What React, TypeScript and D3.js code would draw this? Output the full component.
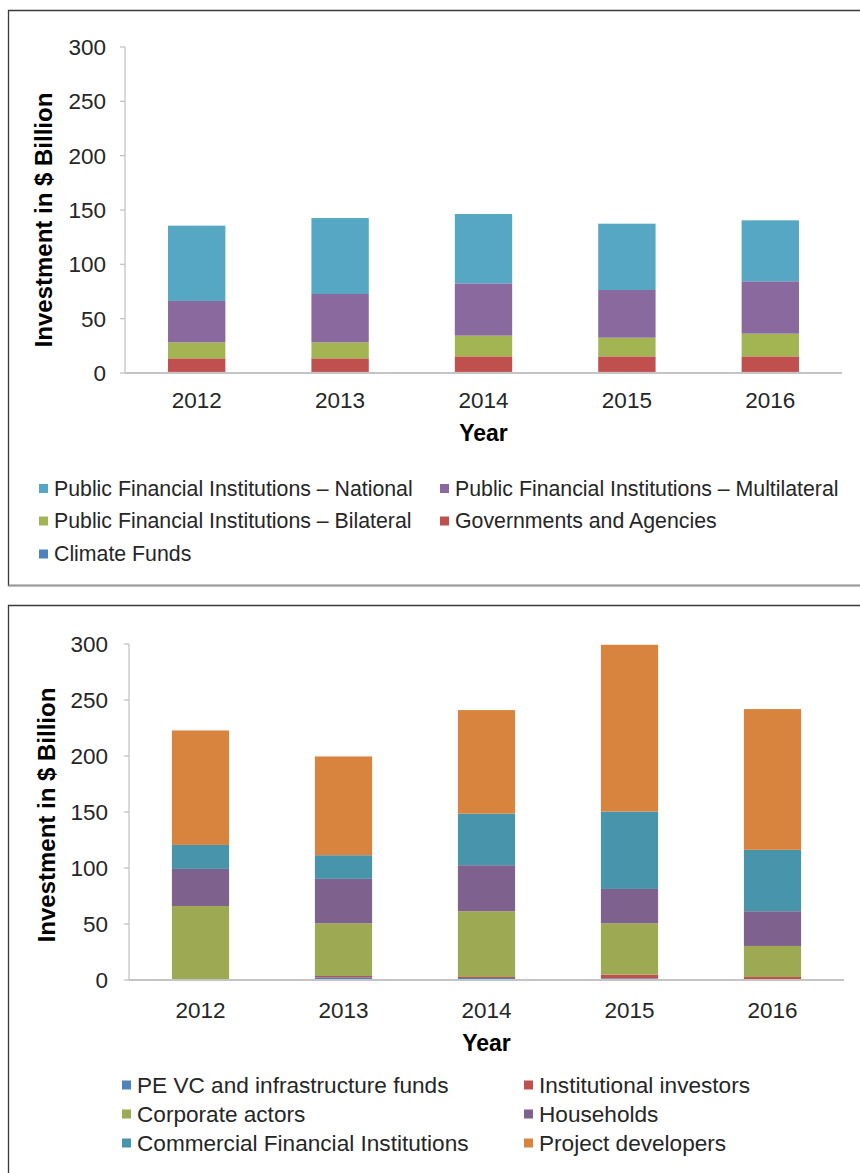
import React from "react";
import * as d3 from "d3";

const years = ["2012", "2013", "2014", "2015", "2016"];
const yTicks = [0, 50, 100, 150, 200, 250, 300];

// Top chart (public finance), bottom to top stacking order
const topNames = [
  "Climate Funds",
  "Governments and Agencies",
  "Public Financial Institutions – Bilateral",
  "Public Financial Institutions – Multilateral",
  "Public Financial Institutions – National",
];
const climateFunds = [1, 1, 1, 1, 1];
const governments = [12.5, 12.5, 14.3, 14.3, 14.3];
const pfiBilateral = [14.7, 14.7, 19.1, 17.2, 20.9];
const pfiMultilateral = [38.1, 44.5, 48.1, 43.9, 48.2];
const pfiNational = [69.3, 69.9, 63.8, 61.0, 56.1];
const topColors = ["#4f81bd", "#c0504d", "#a3b552", "#8a699e", "#55a7c3"];
// legend order (row-major, two columns)
const topLegendOrder = [4, 3, 2, 1, 0];

// Bottom chart (private finance)
const bottomNames = [
  "PE VC and infrastructure funds",
  "Institutional investors",
  "Corporate actors",
  "Households",
  "Commercial Financial Institutions",
  "Project developers",
];
const peVc = [0, 2.4, 1.8, 1.5, 0.3];
const institutional = [0, 1.2, 0.9, 3.3, 2.4];
const corporate = [66.1, 47.0, 58.7, 45.8, 27.7];
const households = [33.1, 39.7, 41.1, 30.7, 31.0];
const commercialFI = [21.4, 21.1, 46.1, 69.1, 54.8];
const projectDevelopers = [102.2, 88.2, 92.4, 148.9, 125.7];
const bottomColors = ["#4f81bd", "#c0504d", "#9ea954", "#7e618c", "#4794ab", "#d9843e"];
const bottomLegendOrder = [0, 1, 2, 3, 4, 5];

const FONT = "'Liberation Sans', Arial, Helvetica, sans-serif";

type Layout = {
  axisX: number;
  rightX: number;
  y0: number;
  y300: number;
  tickLabelX: number;
  yearBaseline: number;
  titleBaseline: number;
  yTitleX: number;
  yTitleY: number;
  legendRows: number[];
  legendCols: number[];
  legendFont: number;
  square: number;
};

function StackedChart({
  seriesValues,
  names,
  colors,
  legendOrder,
  L,
}: {
  seriesValues: number[][];
  names: string[];
  colors: string[];
  legendOrder: number[];
  L: Layout;
}) {
  const x = d3
    .scaleBand<string>()
    .domain(years)
    .range([L.axisX, L.rightX])
    .paddingInner(0.6)
    .paddingOuter(0.3);
  const y = d3.scaleLinear().domain([0, 300]).range([L.y0, L.y300]);
  const keys = names.map((_, i) => "s" + i);
  const rows = years.map((yr, j) => {
    const r: any = { year: yr };
    keys.forEach((k, i) => (r[k] = seriesValues[i][j]));
    return r;
  });
  const stacked = d3.stack<any>().keys(keys)(rows);

  return (
    <g>
      {stacked.map((layer, i) => (
        <g key={i} fill={colors[i]}>
          {layer.map((d, j) => {
            const h = y(d[0]) - y(d[1]);
            if (h <= 0) return null;
            return (
              <rect
                key={j}
                x={x(years[j])}
                y={y(d[1])}
                width={x.bandwidth()}
                height={h}
              />
            );
          })}
        </g>
      ))}
      {/* y axis */}
      <line x1={L.axisX} x2={L.axisX} y1={L.y300} y2={L.y0} stroke="#bfbfbf" strokeWidth={1.2} />
      {yTicks.map((t) => (
        <g key={t}>
          <line x1={L.axisX - 5} x2={L.axisX} y1={y(t)} y2={y(t)} stroke="#bfbfbf" strokeWidth={1.2} />
          <text
            x={L.tickLabelX}
            y={y(t)}
            dy="0.35em"
            textAnchor="end"
            fontSize={22.5}
            fill="#262626"
            fontFamily={FONT}
          >
            {t}
          </text>
        </g>
      ))}
      {/* x axis baseline */}
      <line x1={L.axisX} x2={L.rightX} y1={L.y0} y2={L.y0} stroke="#c4c4c4" strokeWidth={2} />
      {years.map((yr) => (
        <text
          key={yr}
          x={(x(yr) as number) + x.bandwidth() / 2}
          y={L.yearBaseline}
          textAnchor="middle"
          fontSize={22.5}
          fill="#262626"
          fontFamily={FONT}
        >
          {yr}
        </text>
      ))}
      <text
        x={(L.axisX + L.rightX) / 2}
        y={L.titleBaseline}
        textAnchor="middle"
        fontSize={23}
        fontWeight="bold"
        fill="#000"
        fontFamily={FONT}
      >
        Year
      </text>
      <text
        transform={`translate(${L.yTitleX},${L.yTitleY}) rotate(-90)`}
        textAnchor="middle"
        fontSize={24}
        fontWeight="bold"
        fill="#000"
        fontFamily={FONT}
      >
        Investment in $ Billion
      </text>
      {/* legend */}
      {legendOrder.map((si, k) => {
        const row = Math.floor(k / 2);
        const col = k % 2;
        const cx = L.legendCols[col];
        const cy = L.legendRows[row];
        return (
          <g key={si}>
            <rect
              x={cx}
              y={cy - L.square / 2}
              width={L.square}
              height={L.square}
              fill={colors[si]}
            />
            <text
              x={cx + L.square + 6}
              y={cy}
              dy="0.35em"
              fontSize={L.legendFont}
              fill="#262626"
              fontFamily={FONT}
            >
              {names[si]}
            </text>
          </g>
        );
      })}
    </g>
  );
}

const topLayout: Layout = {
  axisX: 125,
  rightX: 842,
  y0: 373,
  y300: 47,
  tickLabelX: 106,
  yearBaseline: 408,
  titleBaseline: 441,
  yTitleX: 52,
  yTitleY: 220,
  legendRows: [488.5, 521, 554],
  legendCols: [39, 440],
  legendFont: 21.3,
  square: 9,
};

const bottomLayout: Layout = {
  axisX: 129,
  rightX: 844,
  y0: 980,
  y300: 644,
  tickLabelX: 108,
  yearBaseline: 1018,
  titleBaseline: 1051,
  yTitleX: 55,
  yTitleY: 815,
  legendRows: [1085, 1114, 1143],
  legendCols: [122, 524],
  legendFont: 22.6,
  square: 9,
};

export default function App() {
  return (
    <svg
      width={860}
      height={1173}
      style={{ position: "absolute", left: 0, top: 0, background: "#fff" }}
    >
      <rect x={0} y={0} width={860} height={1173} fill="#fff" />
      {/* frames */}
      <path d="M870,10.5 H8.5 V585.5 H870" fill="none" stroke="#3a3a3a" strokeWidth={1.3} />
      <line x1={8.5} x2={870} y1={585.5} y2={585.5} stroke="#9a9a9a" strokeWidth={1.5} />
      <path d="M870,605.5 H8.5 V1180" fill="none" stroke="#3a3a3a" strokeWidth={1.3} />
      <StackedChart
        seriesValues={[climateFunds, governments, pfiBilateral, pfiMultilateral, pfiNational]}
        names={topNames}
        colors={topColors}
        legendOrder={topLegendOrder}
        L={topLayout}
      />
      <StackedChart
        seriesValues={[peVc, institutional, corporate, households, commercialFI, projectDevelopers]}
        names={bottomNames}
        colors={bottomColors}
        legendOrder={bottomLegendOrder}
        L={bottomLayout}
      />
    </svg>
  );
}
